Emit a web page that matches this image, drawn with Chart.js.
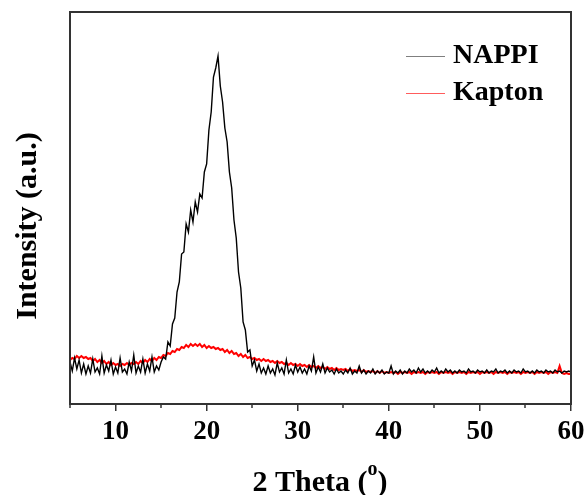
<!DOCTYPE html>
<html lang="en">
<head>
    <meta charset="UTF-8">
    <title>XRD NAPPI / Kapton</title>
    <script src="https://cdn.jsdelivr.net/npm/chart.js@4.4.1/dist/chart.umd.min.js"></script>
    <style>
        * { margin: 0; padding: 0; box-sizing: border-box; }
        body { background: #fff; width: 585px; height: 495px; overflow: hidden; }
        canvas { display: block; }
    </style>
</head>
<body>
    <canvas id="xrd" width="585" height="495"></canvas>

    <script>
        // 2 theta sampling grid: 5 to 60 deg, 0.25 deg step
        const thetaStart = 5;
        const thetaStep = 0.25;

        // NAPPI intensity (a.u.), one row per 5 degrees
        const nappi = [
            42,33,46,35,44,31,40,30,38,31,45,32,36,30,48,31,39,33,44,30,
            37,31,46,32,35,30,42,33,49,31,38,32,45,31,40,33,47,32,38,34,
            42,47,45,62,58,80,86,112,122,150,152,180,172,194,182,202,192,210,206,232,
            240,274,292,327,336,348,318,302,276,262,232,216,184,166,132,116,82,74,52,54,
            38,44,33,40,31,36,30,38,31,35,29,41,32,36,30,44,31,35,30,39,
            32,37,31,35,30,38,33,47,31,37,32,40,31,36,32,34,30,35,31,33,
            30,34,31,36,30,33,31,38,31,34,30,33,31,35,30,33,31,34,30,32,
            31,38,30,33,31,34,30,33,31,35,32,34,31,36,32,35,31,33,31,34,
            32,36,31,33,31,35,32,34,31,33,31,34,32,33,31,35,32,33,31,34,
            32,33,31,34,31,33,32,35,31,33,32,34,31,33,31,34,32,33,31,35,
            32,33,31,33,31,34,32,33,31,34,32,33,31,34,32,33,31,33,32,33,
            32
        ];

        // Kapton intensity (a.u.)
        const kapton = [
            44,46,45,48,46,48,46,47,45,46,43,45,42,44,41,43,40,42,39,41,
            39,40,38,40,39,41,39,41,40,42,40,43,41,44,42,45,43,46,44,47,
            46,49,48,51,50,53,52,55,54,57,56,59,57,60,58,60,58,60,57,59,
            56,58,56,57,55,56,54,55,52,54,51,53,50,51,48,50,47,49,46,47,
            45,46,44,45,43,45,43,44,42,43,41,43,41,42,40,41,39,41,39,40,
            38,40,38,39,37,39,37,38,36,38,36,37,35,37,35,36,34,36,34,35,
            34,35,33,35,33,34,33,34,32,34,32,33,32,33,31,33,31,33,31,32,
            31,32,31,32,30,32,31,32,31,32,30,32,31,32,31,32,30,32,31,32,
            31,32,30,32,31,32,31,32,30,32,31,32,31,32,30,32,31,32,31,32,
            30,32,31,32,31,32,30,32,31,32,31,32,30,32,31,32,31,32,30,32,
            31,32,31,32,30,32,31,32,31,32,30,32,31,32,31,38,31,30,31,30,
            30
        ];

        const majorTicks = [10, 20, 30, 40, 50, 60];
        const minorTicks = [5, 15, 25, 35, 45, 55];

        const seriesNames = ['NAPPI', 'Kapton'];
        const legendColors = ['#7f7f7f', '#ff5c5c'];

        const serif = "'Liberation Serif', 'Times New Roman', serif";

        function toPoints(arr) {
            return arr.map((v, i) => ({ x: thetaStart + i * thetaStep, y: v }));
        }

        // frame, minor ticks, axis titles and legend
        const decor = {
            id: 'decor',
            afterDraw(chart) {
                const ctx = chart.ctx;
                const a = chart.chartArea;
                const xs = chart.scales.x;
                ctx.save();

                // minor ticks
                ctx.strokeStyle = '#333';
                ctx.lineWidth = 1.5;
                minorTicks.forEach(v => {
                    const px = Math.round(xs.getPixelForValue(v));
                    ctx.beginPath();
                    ctx.moveTo(px, a.bottom);
                    ctx.lineTo(px, a.bottom + 4);
                    ctx.stroke();
                });

                // frame
                ctx.lineWidth = 2;
                ctx.strokeRect(a.left, a.top, a.right - a.left, a.bottom - a.top);

                // y title
                ctx.fillStyle = '#000';
                ctx.font = 'bold 30px ' + serif;
                ctx.textAlign = 'center';
                ctx.textBaseline = 'alphabetic';
                ctx.save();
                ctx.translate(36, 226);
                ctx.rotate(-Math.PI / 2);
                ctx.fillText('Intensity (a.u.)', 0, 0);
                ctx.restore();

                // x title with superscript o
                ctx.textAlign = 'left';
                const p1 = '2 Theta (', p2 = 'o', p3 = ')';
                ctx.font = 'bold 30px ' + serif;
                const w1 = ctx.measureText(p1).width, w3 = ctx.measureText(p3).width;
                ctx.font = 'bold 20px ' + serif;
                const w2 = ctx.measureText(p2).width;
                let x0 = 320 - (w1 + w2 + w3) / 2;
                ctx.font = 'bold 30px ' + serif;
                ctx.fillText(p1, x0, 491);
                ctx.font = 'bold 20px ' + serif;
                ctx.fillText(p2, x0 + w1, 475);
                ctx.font = 'bold 30px ' + serif;
                ctx.fillText(p3, x0 + w1 + w2, 491);

                // legend
                const rows = [56.5, 93.5];
                chart.data.datasets.forEach((ds, i) => {
                    ctx.strokeStyle = legendColors[i];
                    ctx.lineWidth = 1;
                    ctx.beginPath();
                    ctx.moveTo(406, rows[i]);
                    ctx.lineTo(445, rows[i]);
                    ctx.stroke();
                    ctx.fillStyle = '#000';
                    ctx.font = 'bold 28px ' + serif;
                    ctx.fillText(ds.label, 453, rows[i] + 6);
                });

                ctx.restore();
            }
        };

        new Chart(document.getElementById('xrd'), {
            type: 'line',
            data: {
                datasets: [
                    {
                        label: seriesNames[0],
                        data: toPoints(nappi),
                        borderColor: '#000',
                        borderWidth: 1.4,
                        pointRadius: 0,
                        tension: 0
                    },
                    {
                        label: seriesNames[1],
                        data: toPoints(kapton),
                        borderColor: '#ff0000',
                        borderWidth: 2,
                        pointRadius: 0,
                        tension: 0
                    }
                ]
            },
            options: {
                responsive: false,
                animation: false,
                layout: { padding: { top: 12, right: 14, left: 0, bottom: 0 } },
                plugins: {
                    legend: { display: false },
                    tooltip: { enabled: false }
                },
                scales: {
                    x: {
                        type: 'linear',
                        min: 5,
                        max: 60,
                        afterBuildTicks: axis => {
                            axis.ticks = majorTicks.map(v => ({ value: v }));
                        },
                        afterFit: scale => {
                            scale.height = 91;
                            scale.paddingLeft = 0;
                            scale.paddingRight = 0;
                        },
                        ticks: {
                            color: '#000',
                            font: { family: serif, weight: 'bold', size: 27 },
                            padding: 5,
                            maxRotation: 0,
                            autoSkip: false
                        },
                        grid: {
                            drawOnChartArea: false,
                            drawTicks: true,
                            tickLength: 7,
                            color: '#333',
                            lineWidth: 1.5
                        },
                        border: { display: false }
                    },
                    y: {
                        min: 0,
                        max: 392,
                        afterFit: scale => { scale.width = 70; },
                        ticks: { display: false },
                        grid: { display: false },
                        border: { display: false }
                    }
                }
            },
            plugins: [decor]
        });
    </script>
</body>
</html>
